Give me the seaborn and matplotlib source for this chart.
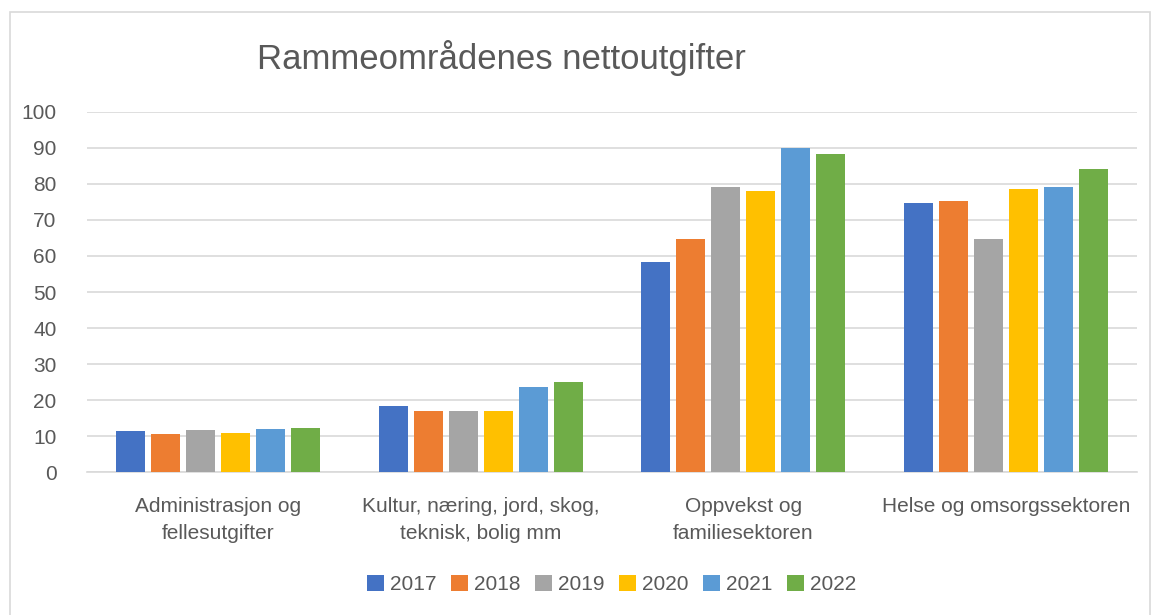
import matplotlib

matplotlib.use("Agg")
import matplotlib.pyplot as plt
import pandas as pd
import seaborn as sns
from matplotlib.patches import Rectangle

categories = [
    "Administrasjon og\nfellesutgifter",
    "Kultur, næring, jord, skog,\nteknisk, bolig mm",
    "Oppvekst og\nfamiliesektoren",
    "Helse og omsorgssektoren",
]
years = ["2017", "2018", "2019", "2020", "2021", "2022"]
values = {
    "2017": [11.3, 18.3, 58.4, 74.8],
    "2018": [10.5, 16.9, 64.7, 75.4],
    "2019": [11.6, 17.0, 79.3, 64.7],
    "2020": [10.7, 17.0, 78.1, 78.7],
    "2021": [11.9, 23.7, 90.0, 79.2],
    "2022": [12.3, 25.1, 88.2, 84.1],
}
colors = ["#4472C4", "#ED7D31", "#A5A5A5", "#FFC000", "#5B9BD5", "#70AD47"]
yticks = list(range(0, 101, 10))

TEXT = "#595959"

df = pd.DataFrame(
    [(c, y, values[y][i]) for y in years for i, c in enumerate(categories)],
    columns=["kategori", "år", "verdi"],
)

sns.set_style("white")
plt.rcParams["font.family"] = ["Liberation Sans", "DejaVu Sans"]

fig = plt.figure(figsize=(11.57, 6.15), dpi=100)
ax = fig.add_axes([0.0752, 0.2325, 0.9075, 0.5854])

sns.barplot(
    data=df, x="kategori", y="verdi", hue="år", order=categories,
    hue_order=years, palette=colors, width=0.8, gap=0.16,
    saturation=1, linewidth=0, ax=ax, zorder=3,
)

ax.set_ylim(0, 100)
ax.set_yticks(yticks)
ax.set_xlim(-0.5, len(categories) - 0.5)
ax.yaxis.grid(True, color="#D9D9D9", lw=1.2, zorder=0)
ax.set_axisbelow(True)
for side in ["top", "right", "left"]:
    ax.spines[side].set_visible(False)
ax.spines["bottom"].set_color("#D9D9D9")
ax.spines["bottom"].set_linewidth(1.2)
ax.tick_params(axis="both", length=0, colors=TEXT, labelsize=15)
ax.tick_params(axis="x", pad=18)
ax.tick_params(axis="y", pad=22)
for lbl in ax.get_xticklabels():
    lbl.set_linespacing(1.5)
ax.set_xlabel("")
ax.set_ylabel("")

fig.text(0.433, 0.905, "Rammeområdenes nettoutgifter", ha="center",
         va="center", fontsize=25, color=TEXT)

ax.legend(
    loc="center", bbox_to_anchor=(0.5, -0.312), ncol=6, frameon=False,
    fontsize=15, handlelength=0.8, handleheight=0.8, handletextpad=0.3,
    columnspacing=0.7, labelcolor=TEXT,
)

fig.patches.append(Rectangle((10 / 1157, -0.01), 1140 / 1157, 1 - 12 / 615 + 0.01,
                             transform=fig.transFigure, fill=False,
                             edgecolor="#D9D9D9", lw=1.2))

fig.savefig("out.png", dpi=100)
